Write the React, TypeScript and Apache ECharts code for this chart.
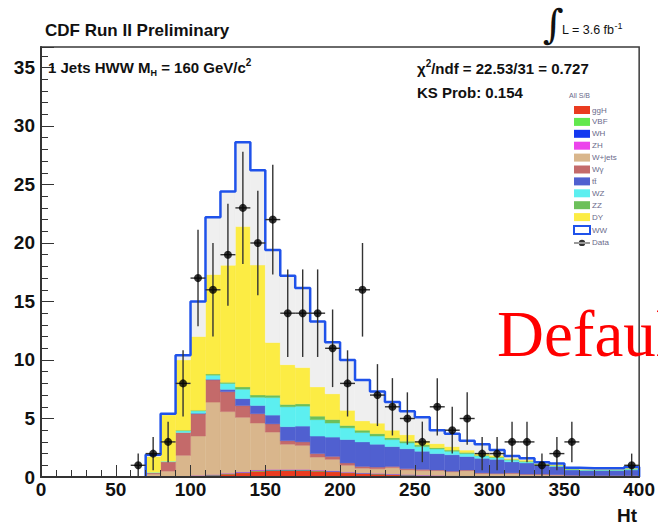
import React, { useEffect, useRef } from "react";
import * as echarts from "echarts";

// ---------- data ----------
const binLow = [70, 80, 90, 100, 110, 120, 130, 140, 150, 160, 170, 180, 190, 200, 210, 220, 230, 240, 250, 260, 270, 280, 290, 300, 310, 320, 330, 340, 350, 360, 370, 380, 390];
const binWidth = 10;

const ggH = [0, 0, 0.05, 0.1, 0.15, 0.25, 0.35, 0.5, 0.55, 0.55, 0.55, 0.5, 0.45, 0.35, 0.3, 0.25, 0.2, 0.15, 0.12, 0.1, 0.08, 0.06, 0.05, 0.04, 0.03, 0.03, 0.02, 0.02, 0.02, 0.01, 0.01, 0.01, 0.01];
const vbf = [0, 0, 0, 0.01, 0.02, 0.03, 0.03, 0.04, 0.04, 0.04, 0.04, 0.03, 0.03, 0.03, 0.02, 0.02, 0.02, 0.02, 0.01, 0.01, 0.01, 0.01, 0.01, 0.01, 0, 0, 0, 0, 0, 0, 0, 0, 0];
const wh = [0, 0, 0, 0.01, 0.02, 0.02, 0.03, 0.03, 0.03, 0.03, 0.03, 0.03, 0.03, 0.02, 0.02, 0.02, 0.02, 0.02, 0.01, 0.01, 0.01, 0.01, 0.01, 0.01, 0.01, 0, 0, 0, 0, 0, 0, 0, 0];
const zh = [0, 0, 0, 0.01, 0.01, 0.01, 0.02, 0.02, 0.02, 0.02, 0.02, 0.02, 0.02, 0.01, 0.01, 0.01, 0.01, 0.01, 0.01, 0.01, 0, 0, 0, 0, 0, 0, 0, 0, 0, 0, 0, 0, 0];
const wjets = [0.25, 0.5, 1.8, 3.37, 6.2, 5.28, 4.67, 4.02, 3.2, 2.16, 2.06, 1.12, 0.98, 0.59, 0.4, 0.4, 0.55, 0.41, 0.4, 0.42, 0.35, 0.47, 0.23, 0.2, 0.26, 0.17, 0.18, 0.13, 0.1, 0.09, 0.09, 0.09, 0.09];
const wgamma = [0.1, 0.8, 1.95, 1.9, 1.9, 1.7, 1.0, 0.8, 0.7, 0.3, 0.3, 0.3, 0.25, 0.2, 0.15, 0.15, 0.1, 0.1, 0.1, 0.05, 0.05, 0.05, 0.05, 0.05, 0.05, 0.05, 0.05, 0.05, 0.03, 0.02, 0.02, 0.02, 0.02];
const ttbar = [0, 0, 0, 0.05, 0.05, 0.2, 0.6, 0.7, 0.75, 1.2, 1.35, 1.5, 1.65, 2.0, 2.1, 1.95, 1.7, 1.7, 1.55, 1.4, 1.4, 1.15, 1.25, 1.2, 0.95, 0.95, 0.75, 0.7, 0.45, 0.43, 0.43, 0.43, 0.48];
const wz = [0.05, 0.05, 0.15, 0.2, 0.35, 0.5, 0.8, 0.7, 1.5, 1.7, 1.7, 1.4, 1.2, 1.0, 0.8, 0.7, 0.6, 0.5, 0.4, 0.4, 0.3, 0.25, 0.2, 0.15, 0.15, 0.1, 0.05, 0.05, 0.05, 0.05, 0.05, 0.05, 0.08];
const zz = [0, 0, 0.05, 0.05, 0.1, 0.1, 0.2, 0.2, 0.2, 0.2, 0.2, 0.3, 0.3, 0.2, 0.2, 0.2, 0.15, 0.15, 0.15, 0.1, 0.1, 0.1, 0.05, 0.05, 0.05, 0.05, 0.05, 0.05, 0.03, 0.03, 0.03, 0.03, 0.04];
const dy = [1.35, 3.95, 6.0, 6.3, 8.5, 10.0, 13.7, 11.1, 4.5, 3.4, 3.1, 2.5, 2.2, 1.3, 0.8, 0.9, 0.65, 0.55, 0.35, 0.35, 0.3, 0.2, 0.15, 0.15, 0.1, 0.1, 0.05, 0.05, 0.04, 0.04, 0.04, 0.04, 0.06];
const ww = [0.15, 0.1, 0.4, 3.0, 4.9, 6.3, 7.2, 8.1, 7.9, 7.6, 6.8, 5.6, 4.4, 4.3, 3.5, 2.7, 2.4, 2.0, 2.0, 1.15, 1.1, 0.8, 0.8, 0.45, 0.2, 0.15, 0.1, 0.1, 0.08, 0.08, 0.08, 0.08, 0.07];

const dataHt = [65, 75, 85, 95, 105, 115, 125, 135, 145, 155, 165, 175, 185, 195, 205, 215, 225, 235, 245, 255, 265, 275, 285, 295, 305, 315, 325, 335, 345, 355, 395];
const dataCount = [1, 2, 3, 8, 17, 16, 19, 23, 20, 22, 14, 14, 14, 11, 8, 16, 7, 6, 5, 3, 6, 4, 5, 2, 2, 3, 3, 1, 2, 3, 1];

const xTicks = { min: 0, max: 400, interval: 50 };
const yTicks = { min: 0, max: 36.75, interval: 5 };

const components = [
  { name: "ggH", values: ggH, color: "#ea3b20" },
  { name: "VBF", values: vbf, color: "#62e84e" },
  { name: "WH", values: wh, color: "#1438f0" },
  { name: "ZH", values: zh, color: "#ec44ec" },
  { name: "W+jets", values: wjets, color: "#d9b68c" },
  { name: "Wγ", values: wgamma, color: "#c46a6a" },
  { name: "tt̄", values: ttbar, color: "#5060d0" },
  { name: "WZ", values: wz, color: "#5ceff0" },
  { name: "ZZ", values: zz, color: "#6cc05a" },
  { name: "DY", values: dy, color: "#fcec44" },
  { name: "WW", values: ww, color: "#efefef" },
];

const SANS = '"Liberation Sans", Arial, Helvetica, sans-serif';

export default function App() {
  const ref = useRef<HTMLDivElement>(null);

  useEffect(() => {
    if (!ref.current) return;
    const chart = echarts.init(ref.current, null, { renderer: "svg" });

    const base = binLow.map(() => 0);
    const stackSeries: any[] = components.map((c, ci) => {
      const items = binLow.map((x, i) => {
        const lo = base[i];
        const hi = lo + c.values[i];
        base[i] = hi;
        return [x, x + binWidth, lo, hi];
      });
      return {
        name: c.name,
        type: "custom",
        z: 2 + ci * 0.01,
        itemStyle: { color: c.color },
        encode: { x: [0, 1], y: [2, 3] },
        data: items,
        renderItem: (params: any, api: any) => {
          const p0 = api.coord([api.value(0), api.value(2)]);
          const p1 = api.coord([api.value(1), api.value(3)]);
          if (Math.abs(p0[1] - p1[1]) < 0.01) return null;
          return {
            type: "rect",
            shape: { x: p0[0], y: p1[1], width: p1[0] - p0[0], height: p0[1] - p1[1] },
            style: { fill: c.color, stroke: c.color, lineWidth: 0.4 },
          };
        },
      };
    });

    // outline of the full stack (top of WW)
    const outline: number[][] = [[binLow[0], 0]];
    binLow.forEach((x, i) => {
      outline.push([x, base[i]]);
      outline.push([x + binWidth, base[i]]);
    });
    outline.push([binLow[binLow.length - 1] + binWidth, 0]);

    const dataPts = dataHt.map((x, i) => [x, dataCount[i], Math.sqrt(dataCount[i])]);

    const option: any = {
      animation: false,
      backgroundColor: "#ffffff",
      grid: {
        left: 41,
        top: 47,
        width: 600,
        height: 430,
        show: true,
        borderColor: "#3a3a3a",
        borderWidth: 1.5,
        backgroundColor: "transparent",
      },
      xAxis: {
        type: "value",
        min: xTicks.min,
        max: xTicks.max,
        interval: xTicks.interval,
        z: 10,
        axisLine: { show: true, lineStyle: { color: "#333", width: 2 } },
        axisTick: { show: true, inside: true, length: 12, lineStyle: { color: "#333", width: 1 } },
        minorTick: { show: true, splitNumber: 5, length: 7, lineStyle: { color: "#333", width: 1 } },
        splitLine: { show: false },
        axisLabel: { margin: 3, fontSize: 19, fontWeight: "bold", color: "#111", fontFamily: SANS },
      },
      yAxis: {
        type: "value",
        min: yTicks.min,
        max: yTicks.max,
        interval: yTicks.interval,
        z: 10,
        axisLine: { show: true, lineStyle: { color: "#333", width: 2 } },
        axisTick: { show: true, inside: true, length: 13, lineStyle: { color: "#333", width: 1 } },
        minorTick: { show: true, splitNumber: 5, length: 7, lineStyle: { color: "#333", width: 1 } },
        splitLine: { show: false },
        axisLabel: { showMaxLabel: false, margin: 6, fontSize: 19, fontWeight: "bold", color: "#111", fontFamily: SANS },
      },
      legend: {
        left: 568,
        top: 101,
        orient: "vertical",
        itemWidth: 16,
        itemHeight: 8,
        itemGap: 3.9,
        selectedMode: false,
        textStyle: { fontSize: 8, color: "#6a6a8a", fontFamily: SANS, lineHeight: 8, padding: [0, 0, 0, -3] },
        data: [
          ...components.slice(0, 10).map((c) => ({ name: c.name, icon: "rect" })),
          { name: "WW", icon: "rect", itemStyle: { color: "#ffffff", borderColor: "#1f52ea", borderWidth: 2 } },
          { name: "Data", icon: "path://M0,4.4 L20,4.4 L20,5.6 L0,5.6 Z M6,5 A4,4 0 1,0 14,5 A4,4 0 1,0 6,5 Z", itemStyle: { color: "#000" } },
        ],
      },
      graphic: [
        { type: "text", x: 45, y: 30, z: 50, style: { text: "CDF Run II Preliminary", fontSize: 17, fontWeight: "bold", fontFamily: SANS, fill: "#111", verticalAlign: "middle" } },
        { type: "text", x: 543, y: 24, z: 50, style: { text: "∫", fontSize: 40, fontFamily: '"DejaVu Serif", serif', fill: "#111", verticalAlign: "middle" } },
        {
          type: "text", x: 562, y: 30, z: 50,
          style: {
            text: "L = 3.6 fb{sup|-1}", fontSize: 12.5, fontFamily: SANS, fill: "#111", verticalAlign: "middle", lineHeight: 17,
            rich: { sup: { fontSize: 9, fontFamily: SANS, verticalAlign: "top", lineHeight: 9, fill: "#111" } },
          },
        },
        {
          type: "text", x: 48, y: 67, z: 50,
          style: {
            text: "1 Jets HWW M{sub|H} = 160 GeV/c{sup|2}", fontSize: 15, fontWeight: "bold", fontFamily: SANS, fill: "#111", verticalAlign: "middle", lineHeight: 20,
            rich: {
              sub: { fontSize: 9, fontWeight: "bold", fontFamily: SANS, verticalAlign: "bottom", lineHeight: 9, fill: "#111" },
              sup: { fontSize: 10, fontWeight: "bold", fontFamily: SANS, verticalAlign: "top", lineHeight: 10, fill: "#111" },
            },
          },
        },
        {
          type: "text", x: 417, y: 68, z: 50,
          style: {
            text: "χ{sup|2}/ndf = 22.53/31 = 0.727", fontSize: 15, fontWeight: "bold", fontFamily: SANS, fill: "#111", verticalAlign: "middle", lineHeight: 20,
            rich: { sup: { fontSize: 10, fontWeight: "bold", fontFamily: SANS, verticalAlign: "top", lineHeight: 10, fill: "#111" } },
          },
        },
        { type: "text", x: 417, y: 92, z: 50, style: { text: "KS Prob: 0.154", fontSize: 15, fontWeight: "bold", fontFamily: SANS, fill: "#111", verticalAlign: "middle" } },
        { type: "text", x: 569, y: 95, z: 50, style: { text: "All S/B", fontSize: 7, fontFamily: SANS, fill: "#6a6a8a", verticalAlign: "middle" } },
        { type: "text", x: 627, y: 515, z: 50, style: { text: "Ht", fontSize: 19, fontWeight: "bold", fontFamily: SANS, fill: "#111", align: "center", verticalAlign: "middle" } },
        { type: "text", x: 497, y: 334, z: 100, style: { text: "Default", fontSize: 65, fontFamily: '"Liberation Serif", "Times New Roman", serif', fill: "#ff0000", verticalAlign: "middle" } },
      ],
      series: [
        ...stackSeries,
        {
          name: "WW outline",
          type: "line",
          z: 3,
          data: outline,
          symbol: "none",
          lineStyle: { color: "#1f52ea", width: 2.5 },
          silent: true,
        },
        {
          name: "Data errors",
          type: "custom",
          z: 4,
          encode: { x: 0, y: 1 },
          data: dataPts,
          renderItem: (params: any, api: any) => {
            const x = api.value(0);
            const n = api.value(1);
            const e = api.value(2);
            const top = api.coord([x, n + e]);
            const bot = api.coord([x, Math.max(n - e, 0)]);
            const l = api.coord([x - binWidth / 2, n]);
            const r = api.coord([x + binWidth / 2, n]);
            return {
              type: "group",
              children: [
                { type: "line", shape: { x1: top[0], y1: top[1], x2: bot[0], y2: bot[1] }, style: { stroke: "#333", lineWidth: 1.4 } },
                { type: "line", shape: { x1: l[0], y1: l[1], x2: r[0], y2: r[1] }, style: { stroke: "#333", lineWidth: 1.4 } },
              ],
            };
          },
        },
        {
          name: "Data",
          type: "scatter",
          z: 5,
          symbol: "circle",
          symbolSize: 8,
          itemStyle: { color: "#000" },
          data: dataPts.map((p) => [p[0], p[1]]),
        },
      ],
    };

    chart.setOption(option);
    return () => chart.dispose();
  }, []);

  return (
    <div
      ref={ref}
      style={{ position: "fixed", left: 0, top: 0, width: 658, height: 526, background: "#fff" }}
    />
  );
}
